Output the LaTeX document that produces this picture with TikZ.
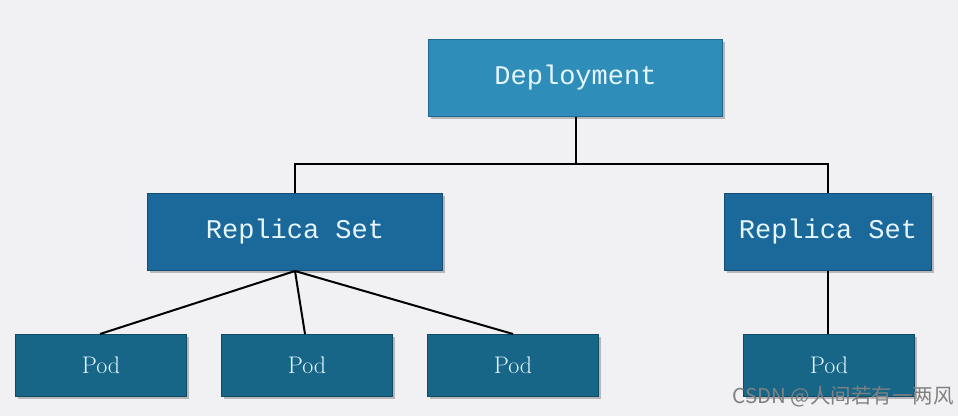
\documentclass[tikz,border=0pt]{standalone}
\usepackage{fontspec}
\setmonofont{Liberation Mono}
\newfontfamily\cjk{Noto Sans CJK SC}
\usetikzlibrary{shadows,calc}
\definecolor{bgcol}{HTML}{F1F1F3}
\definecolor{deplfill}{HTML}{2F8DB9}
\definecolor{deplline}{HTML}{1F6A92}
\definecolor{rsfill}{HTML}{1B689A}
\definecolor{rsline}{HTML}{124E75}
\definecolor{podfill}{HTML}{176688}
\definecolor{podline}{HTML}{0F4A66}
\definecolor{labelcol}{HTML}{E6F6FF}
\tikzset{
  box/.style={draw, line width=1pt, inner sep=0pt, anchor=north west,
    drop shadow={shadow xshift=2.5pt, shadow yshift=-2.5pt, opacity=0.35, fill=black!70},
    text=labelcol},
  deplbox/.style={box, fill=deplfill, draw=deplline, minimum width=294pt, minimum height=77pt,
    font=\ttfamily\fontsize{27}{27}\selectfont},
  rsbox/.style={box, fill=rsfill, draw=rsline, minimum height=77pt,
    font=\ttfamily\fontsize{27}{27}\selectfont},
  podbox/.style={box, fill=podfill, draw=podline, minimum width=171pt, minimum height=62pt,
    font=\fontsize{24}{24}\selectfont},
  link/.style={draw=black, line width=2pt}
}
\begin{document}
\begin{tikzpicture}[x=1pt, y=-1pt]
  \fill[bgcol] (0,0) rectangle (958,416);
  \useasboundingbox (0,0) rectangle (958,416);

  % tree nodes
  \node[deplbox] (dep) at (428,39) {Deployment};
  \node[rsbox, minimum width=295pt] (rs1) at (147,193) {Replica Set};
  \node[rsbox, minimum width=207pt] (rs2) at (724,193) {Replica Set};
  \node[podbox] (p1) at (15,334) {Pod};
  \node[podbox] (p2) at (221,334) {Pod};
  \node[podbox] (p3) at (427,334) {Pod};
  \node[podbox] (p4) at (743,334) {Pod};

  % elbow connectors from the deployment to both replica sets
  \coordinate (fork) at ($(dep.south)+(0,47)$);
  \draw[link] (dep.south) -- (fork);
  \draw[link] (rs1.north) |- (fork) -| (rs2.north);

  % replica sets to their pods
  \draw[link] (rs1.south) -- ($(p1.north west)+(85,0)$);
  \draw[link] (rs1.south) -- ($(p2.north west)+(84,0)$);
  \draw[link] (rs1.south) -- ($(p3.north west)+(86,0)$);
  \draw[link] (rs2.south) -- (rs2.south |- p4.north);

  % watermark
  \node[anchor=west, text=black!50, font=\cjk\fontsize{20.5}{20.5}\selectfont] (wm) at (729,397) {CSDN @人间若有一两风};
\end{tikzpicture}
\end{document}
